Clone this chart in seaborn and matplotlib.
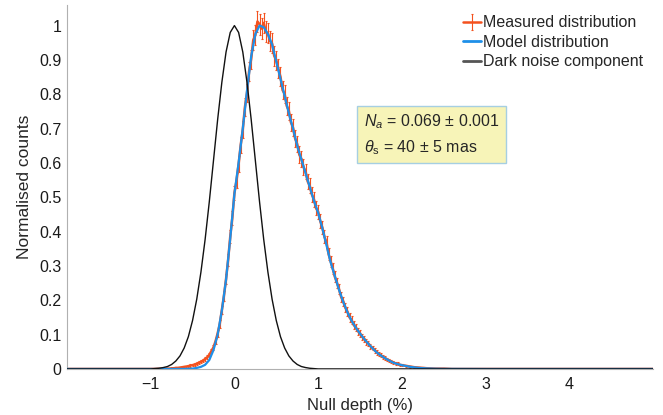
import seaborn as sns
import matplotlib.pyplot as plt
import numpy as np

# measured histogram (null depth in %, normalised counts, error)
meas_x = [-2.0, -1.5, -1.0, -0.9,
          -0.8, -0.775, -0.75, -0.725, -0.7, -0.675, -0.65, -0.625, -0.6, -0.575,
          -0.55, -0.525, -0.5, -0.475, -0.45, -0.425, -0.4, -0.375, -0.35, -0.325,
          -0.3, -0.275, -0.25, -0.225, -0.2, -0.175, -0.15, -0.125, -0.1, -0.075,
          -0.05, -0.025, 0.0, 0.025, 0.05, 0.075, 0.1, 0.125, 0.15, 0.175,
          0.2, 0.225, 0.25, 0.275, 0.3, 0.325, 0.35, 0.375, 0.4, 0.425,
          0.45, 0.475, 0.5, 0.525, 0.55, 0.575, 0.6, 0.625, 0.65, 0.675,
          0.7, 0.725, 0.75, 0.775, 0.8, 0.825, 0.85, 0.875, 0.9, 0.925,
          0.95, 0.975, 1.0, 1.025, 1.05, 1.075, 1.1, 1.125, 1.15, 1.175,
          1.2, 1.225, 1.25, 1.275, 1.3, 1.325, 1.35, 1.375, 1.4, 1.425,
          1.45, 1.475, 1.5, 1.525, 1.55, 1.575, 1.6, 1.625, 1.65, 1.675,
          1.7, 1.725, 1.75, 1.775, 1.8, 1.825, 1.85, 1.875, 1.9, 1.925,
          1.95, 1.975, 2.0, 2.05, 2.1, 2.15, 2.2, 2.25, 2.3, 2.4,
          2.5, 2.6, 3.0, 4.0, 5.0]
meas_y = [0, 0, 0, 0.0005,
          0.001, 0.001, 0.002, 0.002, 0.003, 0.003, 0.004, 0.005, 0.006, 0.007,
          0.008, 0.010, 0.011, 0.013, 0.015, 0.018, 0.021, 0.024, 0.029, 0.034,
          0.041, 0.052, 0.063, 0.081, 0.104, 0.131, 0.172, 0.213, 0.262, 0.318,
          0.385, 0.440, 0.512, 0.548, 0.596, 0.652, 0.697, 0.762, 0.803, 0.866,
          0.902, 0.958, 0.972, 1.012, 1.004, 0.991, 1.008, 0.982, 0.978, 0.955,
          0.948, 0.912, 0.899, 0.874, 0.851, 0.812, 0.801, 0.766, 0.752, 0.718,
          0.703, 0.671, 0.655, 0.624, 0.612, 0.588, 0.575, 0.546, 0.533, 0.508,
          0.494, 0.468, 0.458, 0.431, 0.412, 0.385, 0.369, 0.334, 0.313, 0.292,
          0.268, 0.251, 0.232, 0.209, 0.197, 0.178, 0.167, 0.150, 0.142, 0.128,
          0.121, 0.110, 0.104, 0.094, 0.088, 0.079, 0.074, 0.066, 0.061, 0.054,
          0.049, 0.043, 0.040, 0.034, 0.032, 0.027, 0.025, 0.021, 0.019, 0.016,
          0.015, 0.012, 0.011, 0.009, 0.007, 0.005, 0.004, 0.003, 0.002, 0.001,
          0.001, 0.000, 0, 0, 0]
meas_err = [0, 0, 0, 0.001,
            0.001, 0.001, 0.001, 0.001, 0.002, 0.002, 0.002, 0.002, 0.002, 0.003,
            0.003, 0.003, 0.003, 0.003, 0.004, 0.004, 0.004, 0.005, 0.005, 0.006,
            0.006, 0.007, 0.008, 0.009, 0.010, 0.011, 0.012, 0.014, 0.015, 0.017,
            0.019, 0.020, 0.021, 0.022, 0.023, 0.024, 0.025, 0.026, 0.027, 0.028,
            0.028, 0.029, 0.030, 0.030, 0.030, 0.030, 0.030, 0.030, 0.030, 0.029,
            0.029, 0.029, 0.028, 0.028, 0.028, 0.027, 0.027, 0.026, 0.026, 0.025,
            0.025, 0.025, 0.024, 0.024, 0.023, 0.023, 0.023, 0.022, 0.022, 0.021,
            0.021, 0.020, 0.020, 0.020, 0.019, 0.019, 0.018, 0.017, 0.017, 0.016,
            0.016, 0.015, 0.014, 0.014, 0.013, 0.013, 0.012, 0.012, 0.011, 0.011,
            0.010, 0.010, 0.010, 0.009, 0.009, 0.008, 0.008, 0.008, 0.007, 0.007,
            0.007, 0.006, 0.006, 0.006, 0.005, 0.005, 0.005, 0.004, 0.004, 0.004,
            0.004, 0.003, 0.003, 0.003, 0.003, 0.002, 0.002, 0.002, 0.001, 0.001,
            0.001, 0, 0, 0, 0]

# fitted model
model_x = [-2.0, -1.0,
           -0.6, -0.55, -0.5, -0.45, -0.4, -0.35, -0.3, -0.25, -0.2, -0.15,
           -0.1, -0.05, 0.0, 0.05, 0.1, 0.15, 0.2, 0.25, 0.3, 0.35,
           0.4, 0.45, 0.5, 0.55, 0.6, 0.65, 0.7, 0.75, 0.8, 0.85,
           0.9, 0.95, 1.0, 1.05, 1.1, 1.15, 1.2, 1.25, 1.3, 1.35,
           1.4, 1.45, 1.5, 1.55, 1.6, 1.65, 1.7, 1.75, 1.8, 1.85,
           1.9, 1.95, 2.0,
           2.1, 2.2, 2.3, 2.4, 2.5, 3.0, 5.0]
model_y = [0, 0,
           0.000, 0.0005, 0.001, 0.003, 0.006, 0.012, 0.026, 0.055, 0.100, 0.170,
           0.260, 0.380, 0.510, 0.600, 0.700, 0.810, 0.910, 0.975, 1.000, 0.995,
           0.975, 0.945, 0.895, 0.845, 0.795, 0.745, 0.700, 0.650, 0.610, 0.570,
           0.530, 0.490, 0.455, 0.410, 0.360, 0.310, 0.270, 0.230, 0.195, 0.165,
           0.140, 0.120, 0.103, 0.087, 0.073, 0.060, 0.048, 0.039, 0.031, 0.024,
           0.018, 0.014, 0.011,
           0.006, 0.003, 0.0015, 0.0007, 0.0003, 0, 0]

# dark noise component
dark_x = [-2.0,
          -1.0, -0.95, -0.9, -0.85, -0.8, -0.75, -0.7, -0.65, -0.6, -0.55,
          -0.5, -0.45, -0.4, -0.35, -0.3, -0.25, -0.2, -0.15, -0.1, -0.05,
          0.0, 0.05, 0.1, 0.15, 0.2, 0.25, 0.3, 0.35, 0.4, 0.45,
          0.5, 0.55, 0.6, 0.65, 0.7, 0.75, 0.8, 0.85, 0.9, 0.95, 1.0,
          5.0]
dark_y = [0,
          0.000, 0.001, 0.002, 0.004, 0.007, 0.013, 0.023, 0.038, 0.061, 0.094,
          0.141, 0.203, 0.282, 0.377, 0.487, 0.607, 0.727, 0.835, 0.923, 0.980,
          1.000, 0.980, 0.923, 0.835, 0.727, 0.607, 0.487, 0.377, 0.282, 0.203,
          0.141, 0.094, 0.061, 0.038, 0.023, 0.013, 0.007, 0.004, 0.002, 0.001, 0.000,
          0]

xticks = [-1, 0, 1, 2, 3, 4]
yticks = [0, 0.1, 0.2, 0.3, 0.4, 0.5, 0.6, 0.7, 0.8, 0.9, 1]
ytick_labels = ['0', '0.1', '0.2', '0.3', '0.4', '0.5', '0.6', '0.7', '0.8', '0.9', '1']

sns.set_style('white')
plt.rcParams['font.family'] = ['Liberation Sans', 'DejaVu Sans']
plt.rcParams['mathtext.fontset'] = 'custom'
plt.rcParams['mathtext.rm'] = 'Liberation Sans'
plt.rcParams['mathtext.it'] = 'Liberation Sans:italic'
plt.rcParams['axes.unicode_minus'] = True

orange = '#f4511e'
blue = '#1e8fe8'
grey = '#b0b0b0'

fig = plt.figure(figsize=(6.63, 4.15), dpi=100)
ax = fig.add_axes([0.101, 0.111, 0.884, 0.877])

ax.errorbar(meas_x, meas_y, yerr=meas_err, color=orange, ecolor=orange, lw=1.8,
            elinewidth=0.8, capsize=1.0, capthick=0.8, mec=orange,
            label='Measured distribution', zorder=2)
sns.lineplot(x=model_x, y=model_y, ax=ax, color=blue, lw=1.6,
             label='Model distribution', zorder=3)
sns.lineplot(x=dark_x, y=dark_y, ax=ax, color='#111111', lw=1.0,
             label='Dark noise component', zorder=4)

ax.set_xlim(-2, 5)
ax.set_ylim(0, 1.06)
ax.set_xticks(xticks)
ax.set_yticks(yticks)
ax.set_yticklabels(ytick_labels)
ax.tick_params(direction='in', length=4, width=0.6, color=grey,
               labelsize=11.5, labelcolor='#1a1a1a', pad=4)
ax.tick_params(axis='x', pad=6)
for s in ['top', 'right']:
    ax.spines[s].set_visible(False)
for s in ['left', 'bottom']:
    ax.spines[s].set_color(grey)
    ax.spines[s].set_linewidth(0.8)

ax.set_xlabel('Null depth (%)', fontsize=12, labelpad=4)
ax.set_ylabel('Normalised counts', fontsize=12.5, labelpad=5)

handles, labels = ax.get_legend_handles_labels()
order = [labels.index(l) for l in ['Measured distribution', 'Model distribution', 'Dark noise component']]
leg = ax.legend([handles[i] for i in order], [labels[i] for i in order],
                loc='upper right', bbox_to_anchor=(1.0, 0.998), frameon=False,
                fontsize=11.5, handlelength=1.1, handletextpad=0.15, labelspacing=0.28,
                borderaxespad=0.2)
leg.legend_handles[1].set_linewidth(2.0)
leg.legend_handles[2].set_color('#555555')
leg.legend_handles[2].set_linewidth(2.0)

ax.text(0.506, 0.705, '$N_a$ = 0.069 $\\pm$ 0.001\n$\\theta_{\\rm s}$ = 40 $\\pm$ 5 mas',
        transform=ax.transAxes, va='top', ha='left', fontsize=11.5,
        linespacing=1.5,
        bbox=dict(boxstyle='square,pad=0.42', fc='#f7f4b8', ec='#a6cfe2', lw=1.0))

fig.savefig('out.png', dpi=100)
